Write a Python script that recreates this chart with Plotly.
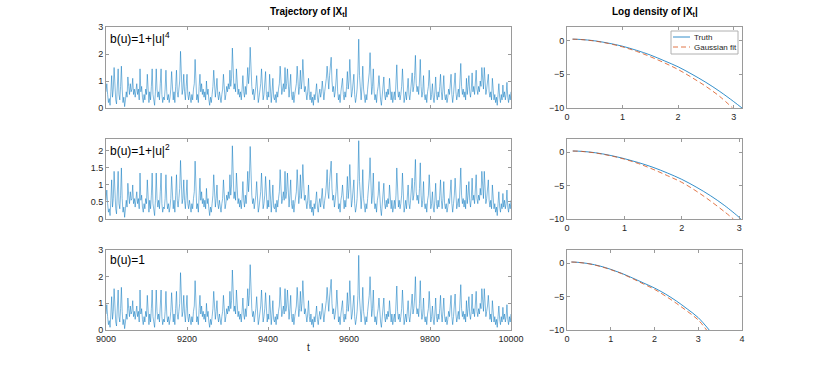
import plotly.graph_objects as go

# |X_t| sampled every 2 time steps from t=9000 to t=10000

# b(u)=1+|u|^4
traj_u4 = [
    0.6, 0.9, 0.5, 0.2, 0.35, 0.1, 0.6, 1.2, 0.4, 0.7, 1.5, 0.6, 0.3, 0.15, 0.7, 1.45, 0.5, 0.3, 0.8, 1.55, 0.7, 0.2, 0.4, 0.05, 0.3,
    0.6, 0.4, 1.15, 0.8, 0.5, 0.9, 0.6, 0.7, 1.1, 0.5, 0.7, 0.4, 0.6, 0.9, 0.5, 0.7, 0.3, 1.45, 0.6, 0.8, 0.4, 0.2, 0.5, 0.3, 0.7,
    0.5, 1.25, 0.4, 0.2, 0.6, 0.3, 0.8, 1.45, 0.5, 0.3, 0.1, 0.6, 1.45, 0.7, 0.4, 0.6, 0.3, 0.9, 1.45, 0.5, 0.2, 0.4, 0.3, 0.7, 1.4,
    0.6, 0.3, 0.5, 0.2, 0.4, 0.7, 1.35, 0.5, 0.3, 0.6, 0.2, 0.8, 1.4, 0.6, 0.4, 0.7, 1.0, 2.1, 0.9, 0.5, 0.7, 1.25, 0.6, 0.3, 0.8,
    1.25, 0.5, 0.3, 0.6, 0.4, 0.2, 0.5, 0.3, 0.7, 0.9, 1.8, 0.7, 0.3, 0.5, 0.2, 0.8, 1.25, 0.6, 0.9, 0.5, 0.7, 0.4, 0.6, 0.3, 1.0,
    0.5, 0.7, 0.3, 0.1, 0.4, 0.2, 0.5, 0.8, 1.4, 0.6, 0.4, 0.7, 1.1, 0.5, 0.3, 0.6, 0.4, 0.2, 0.5, 0.7, 1.25, 0.6, 0.3, 0.5, 0.8,
    0.6, 0.9, 0.7, 1.4, 0.8, 1.1, 2.22, 1.0, 0.7, 0.9, 0.6, 1.45, 0.8, 0.5, 0.7, 0.4, 0.6, 0.3, 0.7, 1.2, 0.6, 0.4, 0.8, 0.5, 0.9,
    1.5, 0.9, 1.3, 2.25, 1.2, 0.8, 0.5, 0.7, 0.3, 0.5, 0.8, 1.2, 0.5, 0.2, 0.4, 0.6, 0.9, 1.45, 0.6, 0.3, 0.5, 0.8, 1.35, 0.5, 0.3,
    0.6, 0.4, 1.25, 0.5, 0.2, 0.6, 1.1, 0.4, 0.3, 0.5, 0.2, 0.6, 0.4, 0.7, 0.9, 1.55, 0.8, 0.5, 0.7, 0.9, 0.6, 1.5, 0.7, 0.9, 1.45,
    0.7, 0.4, 0.8, 1.25, 0.5, 0.3, 0.6, 0.2, 0.5, 0.7, 0.9, 1.55, 0.7, 0.5, 0.8, 1.4, 0.7, 1.0, 1.8, 0.9, 0.6, 0.8, 0.5, 0.3, 0.6,
    1.1, 0.5, 0.3, 0.6, 0.2, 0.4, 0.1, 0.5, 0.3, 0.6, 0.9, 0.4, 0.2, 0.5, 0.7, 0.4, 0.6, 1.0, 0.5, 0.3, 0.6, 0.8, 1.1, 1.55, 0.9,
    0.7, 1.2, 1.8, 1.88, 1.0, 0.6, 0.8, 0.4, 0.6, 0.9, 1.45, 0.6, 0.3, 0.5, 0.2, 0.6, 0.8, 1.1, 0.5, 0.3, 0.6, 0.4, 0.8, 1.35, 0.7,
    1.0, 1.8, 0.8, 0.4, 0.6, 0.9, 1.25, 0.5, 0.2, 0.4, 0.7, 1.3, 2.55, 1.2, 0.6, 0.3, 0.8, 1.55, 0.7, 0.4, 0.2, 0.5, 0.3, 0.7, 1.0,
    1.3, 2.05, 0.9, 0.5, 0.8, 1.45, 0.6, 0.3, 0.5, 0.2, 0.6, 0.8, 1.2, 0.5, 0.3, 0.1, 0.4, 0.7, 1.15, 0.5, 0.3, 0.6, 0.4, 0.7, 0.5,
    1.1, 0.5, 0.3, 0.6, 0.2, 0.4, 0.6, 0.3, 0.8, 1.6, 0.7, 0.4, 0.6, 0.3, 0.5, 0.8, 1.45, 0.6, 0.2, 0.4, 0.6, 0.3, 0.7, 1.1, 0.5,
    0.3, 0.6, 0.9, 1.3, 0.6, 0.8, 1.2, 1.95, 0.9, 0.6, 0.8, 0.5, 1.0, 1.8, 0.8, 0.4, 0.6, 1.2, 0.5, 0.3, 0.5, 0.2, 0.6, 0.8, 1.4,
    0.6, 0.3, 0.5, 0.9, 0.4, 0.2, 0.6, 1.15, 0.5, 0.3, 0.6, 0.4, 0.8, 1.25, 0.6, 0.3, 0.7, 1.2, 0.5, 0.3, 0.5, 0.2, 0.4, 0.7, 0.5,
    0.8, 1.25, 0.5, 0.2, 0.5, 0.8, 1.3, 0.6, 0.3, 0.5, 0.7, 0.4, 0.9, 1.65, 0.8, 0.5, 0.7, 0.4, 0.6, 0.3, 1.1, 0.5, 0.8, 1.2, 0.6,
    0.4, 0.7, 1.3, 0.6, 0.8, 0.5, 0.9, 1.4, 0.7, 0.5, 0.8, 0.6, 1.0, 0.8, 1.5, 0.9, 0.7, 1.5, 0.8, 0.5, 0.7, 0.9, 1.25, 0.6, 0.4,
    0.6, 0.3, 1.1, 0.5, 0.3, 0.5, 0.2, 0.4, 0.1, 0.5, 0.9, 0.4, 0.2, 0.5, 0.3, 0.85, 0.4, 0.6, 0.3, 0.5, 0.95, 0.4, 0.2, 0.5, 0.3,
    0.6]

# b(u)=1+|u|^2
traj_u2 = [
    0.55, 0.85, 0.45, 0.2, 0.3, 0.1, 0.55, 1.15, 0.35, 0.6, 1.4, 0.55, 0.3, 0.15, 0.6, 1.4, 0.45, 0.3, 0.7, 1.5, 0.6, 0.2, 0.35, 0.05, 0.3,
    0.55, 0.35, 1.05, 0.7, 0.45, 0.8, 0.55, 0.6, 1.0, 0.45, 0.6, 0.35, 0.55, 0.8, 0.45, 0.6, 0.3, 1.35, 0.55, 0.7, 0.35, 0.2, 0.45, 0.3, 0.6,
    0.45, 1.15, 0.35, 0.2, 0.55, 0.3, 0.7, 1.35, 0.45, 0.3, 0.1, 0.55, 1.35, 0.6, 0.35, 0.55, 0.3, 0.8, 1.35, 0.45, 0.2, 0.35, 0.3, 0.6, 1.3,
    0.55, 0.3, 0.45, 0.2, 0.35, 0.6, 1.25, 0.45, 0.3, 0.55, 0.2, 0.7, 1.3, 0.55, 0.35, 0.6, 0.9, 1.72, 0.8, 0.45, 0.6, 1.15, 0.55, 0.3, 0.7,
    1.15, 0.45, 0.3, 0.55, 0.35, 0.2, 0.45, 0.3, 0.6, 0.8, 1.7, 0.6, 0.3, 0.45, 0.2, 0.7, 1.2, 0.55, 0.8, 0.45, 0.6, 0.35, 0.55, 0.3, 0.9,
    0.45, 0.6, 0.3, 0.1, 0.35, 0.2, 0.45, 0.7, 1.3, 0.55, 0.35, 0.6, 1.0, 0.45, 0.3, 0.55, 0.35, 0.2, 0.45, 0.6, 1.15, 0.55, 0.3, 0.45, 0.7,
    0.55, 0.8, 0.6, 1.3, 0.7, 1.0, 2.15, 0.9, 0.6, 0.8, 0.55, 1.35, 0.7, 0.45, 0.6, 0.35, 0.55, 0.3, 0.6, 1.1, 0.55, 0.35, 0.7, 0.45, 0.8,
    1.4, 0.8, 1.2, 2.13, 1.1, 0.7, 0.45, 0.6, 0.3, 0.45, 0.7, 1.1, 0.45, 0.2, 0.35, 0.55, 0.8, 1.35, 0.55, 0.3, 0.45, 0.7, 1.25, 0.45, 0.3,
    0.55, 0.35, 1.15, 0.45, 0.2, 0.55, 1.0, 0.35, 0.3, 0.45, 0.2, 0.55, 0.35, 0.6, 0.8, 1.45, 0.7, 0.45, 0.6, 0.8, 0.55, 1.4, 0.6, 0.8, 1.35,
    0.6, 0.35, 0.7, 1.15, 0.45, 0.3, 0.55, 0.2, 0.45, 0.6, 0.8, 1.45, 0.6, 0.45, 0.7, 1.3, 0.6, 0.9, 1.6, 0.8, 0.55, 0.7, 0.45, 0.3, 0.55,
    1.0, 0.45, 0.3, 0.55, 0.2, 0.35, 0.1, 0.45, 0.3, 0.55, 0.8, 0.35, 0.2, 0.45, 0.6, 0.35, 0.55, 0.9, 0.45, 0.3, 0.55, 0.7, 1.0, 1.45, 0.8,
    0.6, 1.1, 1.65, 1.7, 0.9, 0.55, 0.7, 0.35, 0.55, 0.8, 1.35, 0.55, 0.3, 0.45, 0.2, 0.55, 0.7, 1.0, 0.45, 0.3, 0.55, 0.35, 0.7, 1.25, 0.6,
    0.9, 1.6, 0.7, 0.35, 0.55, 0.8, 1.15, 0.45, 0.2, 0.35, 0.6, 1.2, 2.3, 1.1, 0.55, 0.3, 0.7, 1.45, 0.6, 0.35, 0.2, 0.45, 0.3, 0.6, 0.9,
    1.2, 1.8, 0.8, 0.45, 0.7, 1.35, 0.55, 0.3, 0.45, 0.2, 0.55, 0.7, 1.1, 0.45, 0.3, 0.1, 0.35, 0.6, 1.05, 0.45, 0.3, 0.55, 0.35, 0.6, 0.45,
    1.0, 0.45, 0.3, 0.55, 0.2, 0.35, 0.55, 0.3, 0.7, 1.5, 0.6, 0.35, 0.55, 0.3, 0.45, 0.7, 1.35, 0.55, 0.2, 0.35, 0.55, 0.3, 0.6, 1.0, 0.45,
    0.3, 0.55, 0.8, 1.2, 0.55, 0.7, 1.1, 1.75, 0.8, 0.55, 0.7, 0.45, 0.9, 1.65, 0.7, 0.35, 0.55, 1.1, 0.45, 0.3, 0.45, 0.2, 0.55, 0.7, 1.3,
    0.55, 0.3, 0.45, 0.8, 0.35, 0.2, 0.55, 1.05, 0.45, 0.3, 0.55, 0.35, 0.7, 1.15, 0.55, 0.3, 0.6, 1.1, 0.45, 0.3, 0.45, 0.2, 0.35, 0.6, 0.45,
    0.7, 1.15, 0.45, 0.2, 0.45, 0.7, 1.2, 0.55, 0.3, 0.45, 0.6, 0.35, 0.8, 1.5, 0.7, 0.45, 0.6, 0.35, 0.55, 0.3, 1.0, 0.45, 0.7, 1.1, 0.55,
    0.35, 0.6, 1.2, 0.55, 0.7, 0.45, 0.8, 1.3, 0.6, 0.45, 0.7, 0.55, 0.9, 0.7, 1.4, 0.8, 0.6, 1.4, 0.7, 0.45, 0.6, 0.8, 1.15, 0.55, 0.35,
    0.55, 0.3, 1.0, 0.45, 0.3, 0.45, 0.2, 0.35, 0.1, 0.45, 0.8, 0.35, 0.2, 0.45, 0.3, 0.75, 0.35, 0.55, 0.3, 0.45, 0.85, 0.35, 0.2, 0.45, 0.3,
    0.55]

# b(u)=1
traj_1 = [
    0.6, 0.95, 0.5, 0.2, 0.35, 0.1, 0.6, 1.25, 0.4, 0.7, 1.55, 0.6, 0.3, 0.15, 0.7, 1.5, 0.5, 0.3, 0.8, 1.6, 0.7, 0.2, 0.4, 0.05, 0.3,
    0.6, 0.4, 1.2, 0.8, 0.5, 0.9, 0.6, 0.7, 1.1, 0.5, 0.7, 0.4, 0.6, 0.9, 0.5, 0.7, 0.3, 1.5, 0.6, 0.8, 0.4, 0.2, 0.5, 0.3, 0.7,
    0.5, 1.3, 0.4, 0.2, 0.6, 0.3, 0.8, 1.5, 0.5, 0.3, 0.1, 0.6, 1.5, 0.7, 0.4, 0.6, 0.3, 0.9, 1.5, 0.5, 0.2, 0.4, 0.3, 0.7, 1.45,
    0.6, 0.3, 0.5, 0.2, 0.4, 0.7, 1.4, 0.5, 0.3, 0.6, 0.2, 0.8, 1.45, 0.6, 0.4, 0.7, 1.0, 2.15, 0.9, 0.5, 0.7, 1.3, 0.6, 0.3, 0.8,
    1.3, 0.5, 0.3, 0.6, 0.4, 0.2, 0.5, 0.3, 0.7, 0.9, 1.85, 0.7, 0.3, 0.5, 0.2, 0.8, 1.3, 0.6, 0.9, 0.5, 0.7, 0.4, 0.6, 0.3, 1.0,
    0.5, 0.7, 0.3, 0.1, 0.4, 0.2, 0.5, 0.8, 1.45, 0.6, 0.4, 0.7, 1.1, 0.5, 0.3, 0.6, 0.4, 0.2, 0.5, 0.7, 1.3, 0.6, 0.3, 0.5, 0.8,
    0.6, 0.9, 0.7, 1.45, 0.8, 1.1, 2.25, 1.0, 0.7, 0.9, 0.6, 1.5, 0.8, 0.5, 0.7, 0.4, 0.6, 0.3, 0.7, 1.2, 0.6, 0.4, 0.8, 0.5, 0.9,
    1.55, 0.9, 1.3, 2.45, 1.2, 0.8, 0.5, 0.7, 0.3, 0.5, 0.8, 1.25, 0.5, 0.2, 0.4, 0.6, 0.9, 1.5, 0.6, 0.3, 0.5, 0.8, 1.4, 0.5, 0.3,
    0.6, 0.4, 1.3, 0.5, 0.2, 0.6, 1.1, 0.4, 0.3, 0.5, 0.2, 0.6, 0.4, 0.7, 0.9, 1.6, 0.8, 0.5, 0.7, 0.9, 0.6, 1.55, 0.7, 0.9, 1.5,
    0.7, 0.4, 0.8, 1.3, 0.5, 0.3, 0.6, 0.2, 0.5, 0.7, 0.9, 1.6, 0.7, 0.5, 0.8, 1.45, 0.7, 1.0, 1.85, 0.9, 0.6, 0.8, 0.5, 0.3, 0.6,
    1.1, 0.5, 0.3, 0.6, 0.2, 0.4, 0.1, 0.5, 0.3, 0.6, 0.9, 0.4, 0.2, 0.5, 0.7, 0.4, 0.6, 1.0, 0.5, 0.3, 0.6, 0.8, 1.1, 1.6, 0.9,
    0.7, 1.2, 1.85, 1.9, 1.0, 0.6, 0.8, 0.4, 0.6, 0.9, 1.5, 0.6, 0.3, 0.5, 0.2, 0.6, 0.8, 1.1, 0.5, 0.3, 0.6, 0.4, 0.8, 1.4, 0.7,
    1.0, 1.85, 0.8, 0.4, 0.6, 0.9, 1.3, 0.5, 0.2, 0.4, 0.7, 1.3, 2.8, 1.2, 0.6, 0.3, 0.8, 1.6, 0.7, 0.4, 0.2, 0.5, 0.3, 0.7, 1.0,
    1.3, 2.0, 0.9, 0.5, 0.8, 1.5, 0.6, 0.3, 0.5, 0.2, 0.6, 0.8, 1.2, 0.5, 0.3, 0.1, 0.4, 0.7, 1.2, 0.5, 0.3, 0.6, 0.4, 0.7, 0.5,
    1.1, 0.5, 0.3, 0.6, 0.2, 0.4, 0.6, 0.3, 0.8, 1.65, 0.7, 0.4, 0.6, 0.3, 0.5, 0.8, 1.5, 0.6, 0.2, 0.4, 0.6, 0.3, 0.7, 1.1, 0.5,
    0.3, 0.6, 0.9, 1.35, 0.6, 0.8, 1.2, 2.0, 0.9, 0.6, 0.8, 0.5, 1.0, 1.85, 0.8, 0.4, 0.6, 1.2, 0.5, 0.3, 0.5, 0.2, 0.6, 0.8, 1.45,
    0.6, 0.3, 0.5, 0.9, 0.4, 0.2, 0.6, 1.2, 0.5, 0.3, 0.6, 0.4, 0.8, 1.3, 0.6, 0.3, 0.7, 1.2, 0.5, 0.3, 0.5, 0.2, 0.4, 0.7, 0.5,
    0.8, 1.3, 0.5, 0.2, 0.5, 0.8, 1.35, 0.6, 0.3, 0.5, 0.7, 0.4, 0.9, 1.7, 0.8, 0.5, 0.7, 0.4, 0.6, 0.3, 1.1, 0.5, 0.8, 1.25, 0.6,
    0.4, 0.7, 1.35, 0.6, 0.8, 0.5, 0.9, 1.45, 0.7, 0.5, 0.8, 0.6, 1.0, 0.8, 1.55, 0.9, 0.7, 1.55, 0.8, 0.5, 0.7, 0.9, 1.3, 0.6, 0.4,
    0.6, 0.3, 1.1, 0.5, 0.3, 0.5, 0.2, 0.4, 0.1, 0.5, 0.9, 0.4, 0.2, 0.5, 0.3, 0.85, 0.4, 0.6, 0.3, 0.5, 0.95, 0.4, 0.2, 0.5, 0.3,
    0.6]

# log density of |X_t|: truth vs gaussian fit
dens_x = [0.1, 0.25, 0.5, 0.75, 1.0, 1.25, 1.5, 1.75, 2.0, 2.25, 2.5, 2.75, 3.0]

truth_u4 = [0.2, 0.15, -0.05, -0.4, -0.85, -1.45, -2.15, -3.0, -3.9, -5.0, -6.2, -7.55, -9.05]
truth_u4_end = (3.15, -10)
gauss_u4 = [0.2, 0.14, -0.08, -0.45, -0.95, -1.6, -2.4, -3.3, -4.3, -5.5, -6.8, -8.3]
gauss_u4_end = (2.98, -10)

truth_u2 = [0.2, 0.15, -0.07, -0.45, -0.95, -1.55, -2.25, -3.1, -4.05, -5.2, -6.5, -8.0, -9.75]
truth_u2_end = (3.03, -10)
gauss_u2 = [0.2, 0.14, -0.1, -0.5, -1.02, -1.7, -2.55, -3.5, -4.5, -5.8, -7.3, -8.95]
gauss_u2_end = (2.9, -10)

truth_1 = [0.2, 0.15, -0.05, -0.4, -0.9, -1.5, -2.2, -2.95, -3.7, -4.6, -5.65, -6.85, -8.15]
truth_1_end = (3.25, -10)
gauss_1 = [0.2, 0.14, -0.07, -0.45, -0.95, -1.55, -2.3, -3.1, -3.9, -4.9, -6.0, -7.2, -8.5]
gauss_1_end = (3.19, -10)

labels = ['b(u)=1+|u|<sup>4</sup>', 'b(u)=1+|u|<sup>2</sup>', 'b(u)=1']
legend_names = ['Truth', 'Gaussian fit']

BLUE = '#0072BD'
RED = '#D95319'
AXIS = '#9a9a9a'
TXT = '#262626'
FONT = 'Liberation Sans, Arial, sans-serif'

W, H = 820, 372
rows_px = [(27, 108), (139, 219), (250, 330)]
left_px = (106, 511)
right_px = (567, 742)


def px_x(a, b):
    return [a / W, b / W]


def px_y(top, bot):
    return [1 - bot / H, 1 - top / H]


fig = go.Figure()

trajs = [traj_u4, traj_u2, traj_1]
traj_ranges = [[0, 3], [0, 2.35], [0, 3]]
traj_ticks = [[0, 1, 2, 3], [0, 0.5, 1, 1.5, 2], [0, 1, 2, 3]]
dens = [(truth_u4, truth_u4_end, gauss_u4, gauss_u4_end),
        (truth_u2, truth_u2_end, gauss_u2, gauss_u2_end),
        (truth_1, truth_1_end, gauss_1, gauss_1_end)]
dens_xrange = [[0, 3.15], [0, 3.05], [0, 4]]
dens_ticks = [[0, 1, 2, 3], [0, 1, 2, 3], [0, 1, 2, 3, 4]]

layout = {}
axis_common = dict(showline=True, linecolor=AXIS, linewidth=1, mirror='ticks',
                   ticks='inside', ticklen=3, tickcolor=AXIS, showgrid=False,
                   zeroline=False, tickfont=dict(size=9, color=TXT, family=FONT))

for i in range(3):
    top, bot = rows_px[i]
    xl, yl = 2 * i + 1, 2 * i + 1
    xr, yr = 2 * i + 2, 2 * i + 2

    y = trajs[i]
    t = list(range(9000, 9000 + 2 * len(y), 2))
    fig.add_trace(go.Scatter(x=t, y=y, mode='lines',
                             line=dict(color=BLUE, width=0.5),
                             showlegend=False,
                             xaxis='x%d' % xl, yaxis='y%d' % yl))

    truth, t_end, gauss, g_end = dens[i]
    fig.add_trace(go.Scatter(x=dens_x[:len(truth)] + [t_end[0]], y=truth + [t_end[1]],
                             mode='lines', line=dict(color=BLUE, width=0.8, shape='spline'),
                             name=legend_names[0], showlegend=False,
                             xaxis='x%d' % xr, yaxis='y%d' % yr))
    fig.add_trace(go.Scatter(x=dens_x[:len(gauss)] + [g_end[0]], y=gauss + [g_end[1]],
                             mode='lines', line=dict(color=RED, width=0.8, dash='5px,3px', shape='spline'),
                             name=legend_names[1], showlegend=False,
                             xaxis='x%d' % xr, yaxis='y%d' % yr))

    layout['xaxis%d' % xl] = dict(axis_common, domain=px_x(*left_px), anchor='y%d' % yl,
                                  range=[9000, 10000], tickvals=list(range(9000, 10001, 200)),
                                  ticktext=[str(v) for v in range(9000, 10001, 200)],
                                  showticklabels=(i == 2))
    layout['yaxis%d' % yl] = dict(axis_common, domain=px_y(top, bot), anchor='x%d' % xl,
                                  range=traj_ranges[i], tickvals=traj_ticks[i])
    layout['xaxis%d' % xr] = dict(axis_common, domain=px_x(*right_px), anchor='y%d' % yr,
                                  range=dens_xrange[i], tickvals=dens_ticks[i])
    layout['yaxis%d' % yr] = dict(axis_common, domain=px_y(top, bot), anchor='x%d' % xr,
                                  range=[-10, 2], tickvals=[-10, -5, 0])

    fig.add_annotation(x=(left_px[0] + 2) / W, y=1 - (top + 1) / H, xref='paper', yref='paper',
                       xanchor='left', yanchor='top', text=labels[i], showarrow=False,
                       font=dict(size=12, color='black', family=FONT))

fig.update_layout(**layout)

# titles and x label
fig.add_annotation(x=(left_px[0] + left_px[1]) / 2 / W, y=1 - 12 / H, xref='paper', yref='paper',
                   xanchor='center', yanchor='middle',
                   text='<b>Trajectory of |X<sub>t</sub>|</b>', showarrow=False,
                   font=dict(size=10, color='black', family=FONT))
fig.add_annotation(x=(right_px[0] + right_px[1]) / 2 / W, y=1 - 12 / H, xref='paper', yref='paper',
                   xanchor='center', yanchor='middle',
                   text='<b>Log density of |X<sub>t</sub>|</b>', showarrow=False,
                   font=dict(size=10, color='black', family=FONT))
fig.add_annotation(x=(left_px[0] + left_px[1]) / 2 / W, y=1 - 347 / H, xref='paper', yref='paper',
                   xanchor='center', yanchor='middle',
                   text='t', showarrow=False, font=dict(size=10, color=TXT, family=FONT))

# legend box drawn MATLAB style in the top right panel
lg_l, lg_r, lg_t, lg_b = 671, 738, 31, 54
fig.add_shape(type='rect', xref='paper', yref='paper',
              x0=lg_l / W, x1=lg_r / W, y0=1 - lg_b / H, y1=1 - lg_t / H,
              line=dict(color='#b0b0b0', width=1), fillcolor='white')
for k, (col, dash, yy) in enumerate([(BLUE, 'solid', 37), (RED, '5px,3px', 47)]):
    fig.add_shape(type='line', xref='paper', yref='paper',
                  x0=673 / W, x1=690 / W, y0=1 - yy / H, y1=1 - yy / H,
                  line=dict(color=col, width=0.8, dash=dash))
    fig.add_annotation(x=692 / W, y=1 - yy / H, xref='paper', yref='paper',
                       xanchor='left', yanchor='middle', text=legend_names[k],
                       showarrow=False, font=dict(size=8, color=TXT, family=FONT))

fig.update_layout(
    width=W, height=H,
    margin=dict(l=0, r=0, t=0, b=0, pad=0, autoexpand=False),
    paper_bgcolor='white', plot_bgcolor='white',
    font=dict(family=FONT, color=TXT),
    showlegend=False,
)

# drop the browser's default body margin so the figure sits at the page corner
fig.write_html('out.html', config={'displayModeBar': False},
               post_script="document.body.style.margin='0px';")
